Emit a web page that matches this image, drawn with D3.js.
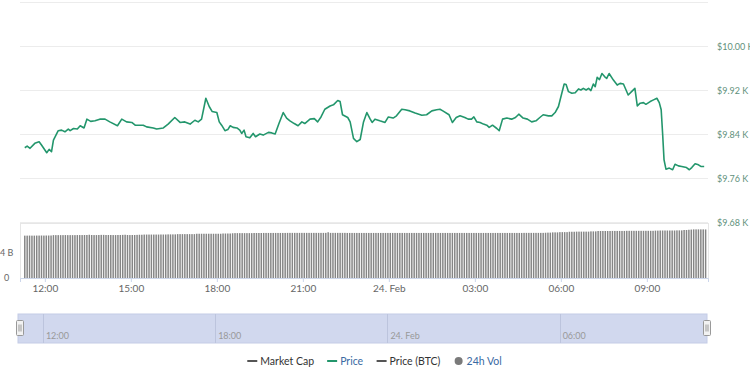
<!DOCTYPE html>
<html>
<head>
<meta charset="utf-8">
<script src="https://cdn.jsdelivr.net/npm/d3@7"></script>
<style>
  body { margin: 0; background: #fff; }
  svg { display: block; font-family: Lato, "Open Sans", sans-serif; }
</style>
</head>
<body>
<div id="chart"></div>
<script>
// BTC price, last 24h (23 Feb 11:08 -> 24 Feb 11:08)
const startTime = new Date(2020, 1, 23, 11, 8);
const endTime = new Date(2020, 1, 24, 11, 8);

// minutes after startTime
const priceMinutes = [
  10, 15, 21, 31, 40, 45, 56, 61, 66, 70, 80, 87, 94, 101, 105, 112, 120, 126, 134, 140,
  148, 157, 167, 178, 188, 204, 213, 223, 234, 241, 258, 265, 279, 286, 300, 310, 324, 335, 345, 356,
  366, 373, 380, 389, 396, 402, 412, 417, 422, 429, 435, 440, 446, 454, 460, 464, 469, 473, 481, 488,
  493, 502, 509, 520, 527, 534, 542, 551, 558, 565, 574, 582, 590, 596, 607, 616, 623, 630, 638, 649,
  656, 665, 670, 675, 686, 691, 698, 705, 712, 719, 726, 733, 737, 743, 753, 764, 771, 781, 788, 799,
  806, 816, 827, 841, 851, 862, 872, 879, 885, 898, 905, 913, 921, 931, 938, 945, 950, 956, 963, 970,
  977, 982, 989, 998, 1003, 1010, 1019, 1029, 1037, 1044, 1053, 1062, 1071, 1080, 1088, 1095, 1106, 1113, 1120, 1127,
  1134, 1139, 1143, 1148, 1155, 1162, 1169, 1174, 1179, 1185, 1190, 1195, 1200, 1204, 1208, 1213, 1218, 1224, 1228, 1233,
  1242, 1250, 1256, 1263, 1273, 1280, 1287, 1292, 1298, 1305, 1310, 1319, 1326, 1333, 1338, 1342, 1345, 1348, 1352, 1359,
  1366, 1371, 1378, 1385, 1395, 1401, 1406, 1413, 1420, 1425, 1432
];
// USD
const priceValues = [
  9815, 9818, 9814, 9823, 9826, 9820, 9806, 9812, 9808, 9829, 9846, 9847, 9844, 9849, 9846, 9850, 9849, 9855, 9851, 9867,
  9863, 9864, 9867, 9867, 9862, 9855, 9867, 9862, 9861, 9856, 9856, 9853, 9851, 9849, 9851, 9858, 9870, 9861, 9862, 9858,
  9865, 9862, 9867, 9905, 9890, 9881, 9879, 9862, 9856, 9846, 9848, 9855, 9852, 9851, 9847, 9841, 9847, 9835, 9833, 9841,
  9835, 9840, 9838, 9843, 9842, 9840, 9859, 9879, 9869, 9864, 9859, 9855, 9862, 9859, 9867, 9868, 9862, 9871, 9885, 9891,
  9893, 9901, 9899, 9875, 9870, 9862, 9832, 9826, 9830, 9862, 9879, 9867, 9861, 9867, 9864, 9861, 9871, 9869, 9873, 9885,
  9884, 9882, 9878, 9874, 9875, 9882, 9884, 9885, 9882, 9875, 9861, 9870, 9873, 9870, 9867, 9867, 9871, 9862, 9861, 9858,
  9856, 9852, 9856, 9850, 9846, 9867, 9869, 9867, 9870, 9876, 9869, 9867, 9862, 9864, 9870, 9875, 9873, 9873, 9879, 9890,
  9914, 9931, 9930, 9917, 9914, 9915, 9922, 9920, 9923, 9920, 9923, 9919, 9931, 9926, 9943, 9939, 9950, 9944, 9941, 9950,
  9938, 9929, 9932, 9931, 9911, 9917, 9923, 9891, 9896, 9897, 9894, 9899, 9902, 9905, 9897, 9884, 9841, 9793, 9776, 9778,
  9775, 9785, 9782, 9781, 9779, 9775, 9779, 9786, 9784, 9781, 9781
];

// 24h volume, billions USD, one bar every 5 minutes from minute 10
const volValues = [
  6.78, 6.78, 6.79, 6.78, 6.78, 6.79, 6.79, 6.80, 6.79, 6.80, 6.80, 6.80,
  6.86, 6.86, 6.86, 6.86, 6.86, 6.87, 6.86, 6.86, 6.86, 6.86, 6.87, 6.87,
  6.87, 6.88, 6.88, 6.92, 6.88, 6.87, 6.87, 6.88, 6.90, 6.90, 6.88, 6.88,
  6.88, 6.87, 6.87, 6.88, 6.88, 6.90, 6.92, 6.88, 6.87, 6.88, 6.88, 6.90,
  6.92, 6.92, 6.95, 6.95, 6.95, 6.95, 6.95, 6.95, 6.95, 6.96, 6.96, 6.96,
  6.98, 6.98, 6.98, 6.98, 7.02, 7.02, 7.02, 7.02, 7.02, 7.02, 7.02, 7.02,
  7.08, 7.08, 7.08, 7.08, 7.08, 7.08, 7.08, 7.08, 7.08, 7.08, 7.08, 7.12,
  7.12, 7.12, 7.12, 7.16, 7.18, 7.18, 7.18, 7.18, 7.18, 7.18, 7.18, 7.18,
  7.20, 7.20, 7.20, 7.20, 7.21, 7.21, 7.21, 7.21, 7.21, 7.21, 7.21, 7.21,
  7.21, 7.21, 7.22, 7.22, 7.22, 7.22, 7.22, 7.22, 7.22, 7.22, 7.22, 7.22,
  7.22, 7.22, 7.22, 7.22, 7.22, 7.22, 7.22, 7.32, 7.22, 7.22, 7.22, 7.22,
  7.22, 7.22, 7.22, 7.21, 7.21, 7.21, 7.21, 7.21, 7.21, 7.21, 7.21, 7.21,
  7.21, 7.21, 7.21, 7.21, 7.21, 7.21, 7.21, 7.21, 7.21, 7.21, 7.21, 7.21,
  7.21, 7.21, 7.21, 7.21, 7.21, 7.21, 7.21, 7.21, 7.21, 7.21, 7.21, 7.21,
  7.21, 7.21, 7.21, 7.21, 7.21, 7.21, 7.21, 7.21, 7.21, 7.21, 7.21, 7.21,
  7.21, 7.21, 7.21, 7.21, 7.21, 7.21, 7.21, 7.21, 7.21, 7.21, 7.21, 7.21,
  7.21, 7.21, 7.21, 7.21, 7.21, 7.21, 7.21, 7.21, 7.21, 7.21, 7.21, 7.21,
  7.21, 7.21, 7.21, 7.21, 7.21, 7.22, 7.22, 7.22, 7.22, 7.22, 7.22, 7.22,
  7.22, 7.22, 7.24, 7.26, 7.26, 7.30, 7.30, 7.30, 7.34, 7.34, 7.34, 7.34,
  7.40, 7.40, 7.40, 7.42, 7.42, 7.42, 7.42, 7.42, 7.42, 7.46, 7.46, 7.46,
  7.52, 7.52, 7.52, 7.52, 7.52, 7.52, 7.53, 7.53, 7.53, 7.53, 7.53, 7.53,
  7.55, 7.55, 7.55, 7.55, 7.55, 7.55, 7.55, 7.55, 7.55, 7.55, 7.55, 7.55,
  7.58, 7.58, 7.60, 7.60, 7.60, 7.60, 7.60, 7.60, 7.60, 7.62, 7.62, 7.62,
  7.68, 7.68, 7.72, 7.75, 7.78, 7.78, 7.78, 7.78, 7.78, 7.77
];

const priceTicks = [9680, 9760, 9840, 9920, 10000, 10080];
const volTicks = [0, 4];

const legendNames = ["Market Cap", "Price", "Price (BTC)", "24h Vol"];
const legendColors = ["#555555", "#23966c", "#555555", "#7a7a7a"];
const legendTextColors = ["#333333", "#3a6aa3", "#333333", "#3a6aa3"];
const legendSymbols = ["line", "line", "line", "circle"];

const width = 750, height = 375;
const plot = {left: 20, right: 708, top: 2, bottom: 222};
const volBox = {top: 223, bottom: 278};
const nav = {left: 18, right: 707, top: 314, bottom: 343};

const svg = d3.select("#chart").append("svg")
    .attr("width", width)
    .attr("height", height);

const minToDate = m => new Date(startTime.getTime() + m * 60000);

const x = d3.scaleTime().domain([startTime, endTime]).range([plot.left, plot.right]);
const y = d3.scaleLinear().domain([9680, 10080]).range([plot.bottom, plot.top]);
const yVol = d3.scaleLinear().domain([0, 4]).range([volBox.bottom, 253]);

// price gridlines
svg.append("g").selectAll("line")
    .data(priceTicks)
    .join("line")
    .attr("x1", plot.left).attr("x2", plot.right)
    .attr("y1", d => Math.round(y(d)) + 0.5).attr("y2", d => Math.round(y(d)) + 0.5)
    .attr("stroke", "#ececec");

// price labels on the right (top one hidden like the reference)
svg.append("g").selectAll("text")
    .data(priceTicks.filter(d => d < 10080))
    .join("text")
    .attr("x", 717)
    .attr("y", d => y(d) + 3.5)
    .attr("font-size", 9)
    .attr("fill", "#5f917c")
    .text(d => "$" + d3.format(".2f")(d / 1000) + " K");

// volume panel
svg.append("rect")
    .attr("x", plot.left + 0.5).attr("y", volBox.top + 0.5)
    .attr("width", plot.right - plot.left).attr("height", volBox.bottom - volBox.top)
    .attr("fill", "none").attr("stroke", "#e6e6e6");

const barW = (x(minToDate(5)) - x(minToDate(0))) * 0.62;
svg.append("g").selectAll("rect")
    .data(volValues)
    .join("rect")
    .attr("x", (d, i) => x(minToDate(10 + i * 5)) - barW / 2)
    .attr("y", d => yVol(d))
    .attr("width", barW)
    .attr("height", d => yVol(0) - yVol(d))
    .attr("fill", "#858585");

svg.append("g").selectAll("text")
    .data(volTicks)
    .join("text")
    .attr("x", d => d === 0 ? 4 : 0)
    .attr("y", d => yVol(d) + 3)
    .attr("font-size", 9)
    .attr("fill", "#666")
    .text(d => d === 0 ? "0" : d + " B");

// price line
const line = d3.line()
    .x((d, i) => x(minToDate(priceMinutes[i])))
    .y(d => y(d));

svg.append("path")
    .datum(priceValues)
    .attr("d", line)
    .attr("fill", "none")
    .attr("stroke", "#23966c")
    .attr("stroke-width", 1.6)
    .attr("stroke-linejoin", "round");

// x axis
const fmtTime = d => (d.getHours() === 0 ? d3.timeFormat("%-d. %b")(d) : d3.timeFormat("%H:%M")(d));
const xAxis = d3.axisBottom(x)
    .ticks(d3.timeHour.every(3))
    .tickFormat(fmtTime)
    .tickSize(4)
    .tickPadding(3);
const gx = svg.append("g")
    .attr("transform", `translate(0,${volBox.bottom})`)
    .call(xAxis);
gx.select(".domain").attr("stroke", "#ccd6eb");
gx.selectAll(".tick line").attr("stroke", "#ccd6eb");
gx.selectAll(".tick text").attr("fill", "#666").attr("font-size", 10)
    .attr("font-family", "Lato, sans-serif");

// navigator
const xNav = d3.scaleTime().domain([startTime, endTime]).range([nav.left, nav.right]);
svg.append("rect")
    .attr("x", nav.left).attr("y", nav.top)
    .attr("width", nav.right - nav.left).attr("height", nav.bottom - nav.top)
    .attr("fill", "#d1d8ee")
    .attr("stroke", "#c4cce6");

const navTicks = xNav.ticks(d3.timeHour.every(6));
svg.append("g").selectAll("line")
    .data(navTicks)
    .join("line")
    .attr("x1", d => Math.round(xNav(d)) + 0.5).attr("x2", d => Math.round(xNav(d)) + 0.5)
    .attr("y1", nav.top).attr("y2", nav.bottom)
    .attr("stroke", "#bcc4dd");
svg.append("g").selectAll("text")
    .data(navTicks)
    .join("text")
    .attr("x", d => xNav(d) + 3)
    .attr("y", nav.bottom - 4)
    .attr("font-size", 9)
    .attr("fill", "#999")
    .text(fmtTime);

// navigator handles
[nav.left + 2, nav.right].forEach(hx => {
  const h = svg.append("g").attr("transform", `translate(${hx},${(nav.top + nav.bottom) / 2})`);
  h.append("rect")
      .attr("x", -3.5).attr("y", -8).attr("width", 7).attr("height", 15)
      .attr("rx", 1).attr("fill", "#f2f2f2").attr("stroke", "#999");
  [-1, 1].forEach(o => h.append("line")
      .attr("x1", o).attr("x2", o).attr("y1", -4).attr("y2", 3)
      .attr("stroke", "#999"));
});

// legend
const legend = svg.append("g");
const items = legend.selectAll("g")
    .data(legendNames)
    .join("g");
items.each(function(d, i) {
  const g = d3.select(this);
  if (legendSymbols[i] === "line") {
    g.append("line").attr("x1", 0).attr("x2", 10).attr("y1", 0).attr("y2", 0)
        .attr("stroke", legendColors[i]).attr("stroke-width", 2);
  } else {
    g.append("circle").attr("cx", 5).attr("cy", 0).attr("r", 4).attr("fill", legendColors[i]);
  }
  g.append("text").attr("x", 13).attr("y", 4)
      .attr("font-size", 10.5).attr("fill", legendTextColors[i])
      .text(d);
});
let pos = 0;
const widths = [];
items.each(function() { widths.push(this.getBBox().width); });
const total = d3.sum(widths) + 13 * (widths.length - 1);
pos = 374 - total / 2;
items.attr("transform", (d, i) => {
  const t = `translate(${pos},361)`;
  pos += widths[i] + 13;
  return t;
});
</script>
</body>
</html>
